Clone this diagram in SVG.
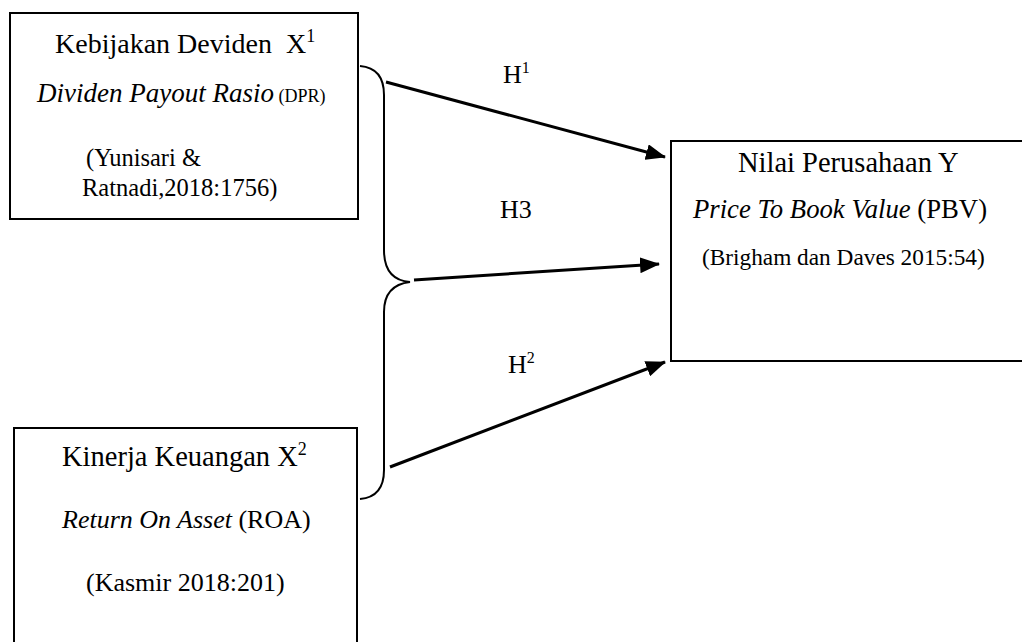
<svg xmlns="http://www.w3.org/2000/svg" width="1022" height="642" viewBox="0 0 1022 642">
<style>
  .box{fill:#fff;stroke:#000;stroke-width:2}
  .t{font-family:"Liberation Serif","Times New Roman",serif;fill:#000}
  .it{font-style:italic}
  .con{fill:none;stroke:#000;stroke-width:3}
  .brace{fill:none;stroke:#000;stroke-width:2}
</style>
<defs>
  <marker id="ah" markerUnits="userSpaceOnUse" markerWidth="20" markerHeight="16" refX="19" refY="8" orient="auto">
    <path d="M0,0 L20,8 L0,16 z" fill="#000"/>
  </marker>
</defs>
<rect width="1022" height="642" fill="#fff"/>
<g id="x1">
  <rect class="box" x="10" y="13" width="348" height="206"/>
  <text class="t" x="55" y="53" font-size="28" style="white-space:pre">Kebijakan Deviden  X<tspan font-size="18" dy="-11">1</tspan></text>
  <text class="t" x="37" y="102" font-size="27"><tspan class="it">Dividen Payout Rasio</tspan><tspan font-size="18"> (DPR)</tspan></text>
  <text class="t" x="86" y="166" font-size="24.5">(Yunisari &amp;</text>
  <text class="t" x="82" y="196" font-size="24.5">Ratnadi,2018:1756)</text>
</g>
<g id="x2">
  <rect class="box" x="14" y="428" width="343" height="230"/>
  <text class="t" x="62" y="466" font-size="28.5">Kinerja Keuangan X<tspan font-size="18" dy="-11">2</tspan></text>
  <text class="t" x="62" y="528" font-size="26"><tspan class="it">Return On Asset</tspan> (ROA)</text>
  <text class="t" x="86" y="591" font-size="26">(Kasmir 2018:201)</text>
</g>
<g id="y">
  <rect class="box" x="671" y="141" width="370" height="220"/>
  <text class="t" x="738" y="172" font-size="28.5">Nilai Perusahaan Y</text>
  <text class="t" x="693" y="218" font-size="26.7"><tspan class="it">Price To Book Value</tspan> (PBV)</text>
  <text class="t" x="702" y="265" font-size="23.3">(Brigham dan Daves 2015:54)</text>
</g>
<g id="connectors">
  <path class="brace" d="M360,66 Q384,68 384,95 L384,250 Q384,280 410,282 Q384,285 384,312 L384,470 Q384,497 360,499"/>
  <line class="con" x1="386" y1="82" x2="665" y2="157" marker-end="url(#ah)"/>
  <line class="con" x1="414" y1="280" x2="659" y2="264" marker-end="url(#ah)"/>
  <line class="con" x1="390" y1="467" x2="665" y2="362" marker-end="url(#ah)"/>
  <text class="t" x="503" y="83" font-size="26">H<tspan font-size="16" dy="-10">1</tspan></text>
  <text class="t" x="500" y="218" font-size="26">H3</text>
  <text class="t" x="508" y="373" font-size="26">H<tspan font-size="16" dy="-10">2</tspan></text>
</g>
</svg>
